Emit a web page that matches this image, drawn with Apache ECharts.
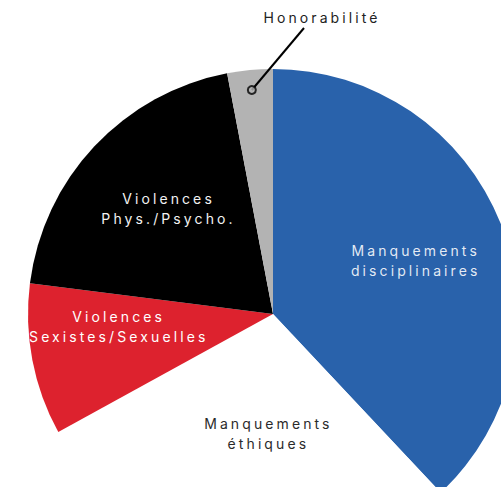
<!DOCTYPE html>
<html><head><meta charset="utf-8">
<script src="https://cdn.jsdelivr.net/npm/echarts@6/dist/echarts.min.js"></script>
<style>
html,body{margin:0;padding:0;background:#fff;overflow:hidden;}
#c{width:501px;height:487px;}
#c text{letter-spacing:3.1px;}
</style></head><body><div id="c"></div>
<script>
// ---- data ----
const categories = ['Manquements\ndisciplinaires', 'Manquements\néthiques', 'Violences\nSexistes/Sexuelles', 'Violences\nPhys./Psycho.', 'Honorabilité'];
const values = [38, 29, 10, 20, 3];

// ---- styles ----
const sliceColors = ['#2962ab', '#ffffff', '#dd222e', '#000000', '#b3b3b3'];
const labelColors = ['rgba(255,255,255,0.88)', '#2b2b2b', '#ffffff', '#f2f2f2', '#222222'];
const labelOffsets = [[26, -7], [15, -4], [-31, -11], [-13, -20], [0, 0]];
const center = [273, 314];
const pieRadius = 245;
const leaderRadius = 225;
const calloutIndex = 4;
const calloutLabelPos = [322, 17];
const calloutLineEnd = [-18, 11]; // relative to the label position

const total = values.reduce((a, b) => a + b, 0);
const cumBefore = values.map((v, i) => values.slice(0, i).reduce((a, b) => a + b, 0));
const calloutMid = cumBefore[calloutIndex] + values[calloutIndex] / 2;
const calloutAng = calloutMid / total * Math.PI * 2;
const calloutStart = [center[0] + leaderRadius * Math.sin(calloutAng), center[1] - leaderRadius * Math.cos(calloutAng)];

const font = 'Inter, "Noto Sans", sans-serif';

const mainData = categories.map((name, i) => {
  const inside = i !== calloutIndex;
  return {
    name: name,
    value: values[i],
    itemStyle: { color: sliceColors[i] },
    label: { show: inside, position: 'inside', color: labelColors[i], offset: labelOffsets[i] },
    labelLine: { show: false }
  };
});

const calloutData = categories.map((name, i) => {
  const show = i === calloutIndex;
  return {
    name: name,
    value: values[i],
    itemStyle: { color: 'rgba(0,0,0,0)' },
    label: { show: show, position: 'outside', color: labelColors[i] },
    labelLine: { show: show, length: 10, length2: 0, lineStyle: { color: '#000', width: 2 } }
  };
});

const labelBase = {
  formatter: '{b}',
  fontFamily: font,
  fontSize: 14,
  lineHeight: 20,
  align: 'center'
};

const chart = echarts.init(document.getElementById('c'), null, { renderer: 'svg' });
chart.setOption({
  animation: false,
  backgroundColor: '#ffffff',
  polar: { center: center, radius: pieRadius },
  angleAxis: { type: 'value', min: 0, max: total, startAngle: 90, clockwise: true, show: false },
  radiusAxis: { type: 'value', min: 0, max: pieRadius, show: false },
  series: [
    {
      type: 'pie',
      center: center,
      radius: pieRadius,
      startAngle: 90,
      clockwise: true,
      avoidLabelOverlap: false,
      silent: true,
      itemStyle: { borderWidth: 0 },
      label: labelBase,
      data: mainData
    },
    {
      type: 'pie',
      center: center,
      radius: leaderRadius,
      startAngle: 90,
      clockwise: true,
      avoidLabelOverlap: false,
      silent: true,
      z: 4,
      itemStyle: { borderWidth: 0 },
      label: labelBase,
      labelLayout: function (p) {
        if (p.dataIndex !== calloutIndex) return {};
        const lx = calloutLabelPos[0], ly = calloutLabelPos[1];
        const start = (p.labelLinePoints && p.labelLinePoints[0]) || calloutStart;
        return {
          x: lx, y: ly, align: 'center', verticalAlign: 'middle',
          labelLinePoints: [start, [lx + calloutLineEnd[0], ly + calloutLineEnd[1]]]
        };
      },
      data: calloutData
    },
    {
      type: 'scatter',
      coordinateSystem: 'polar',
      z: 6,
      silent: true,
      symbol: 'circle',
      symbolSize: 8,
      itemStyle: { color: sliceColors[calloutIndex], borderColor: '#000', borderWidth: 2 },
      data: [[leaderRadius, calloutMid]]
    }
  ]
});
</script>
</body></html>
